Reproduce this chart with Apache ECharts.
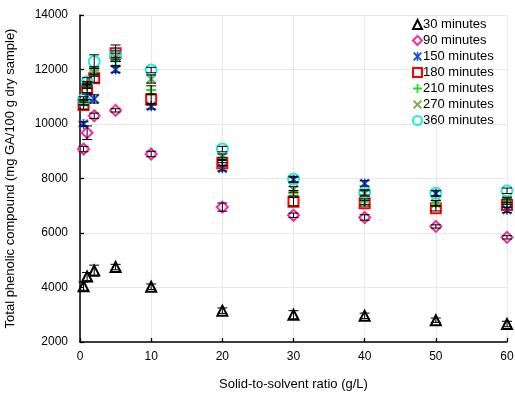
<!DOCTYPE html>
<html>
<head>
<meta charset="utf-8">
<script src="https://cdn.jsdelivr.net/npm/echarts@6/dist/echarts.min.js"></script>
<style>
  html, body { margin: 0; padding: 0; background: #fff; }
  #chart { width: 515px; height: 394px; }
</style>
</head>
<body>
<div id="chart"></div>
<script>
// solid-to-solvent ratio (g/L)
var ratios = [0.5, 1, 2, 5, 10, 20, 30, 40, 50, 60];

var names = ['30 minutes', '90 minutes', '150 minutes', '180 minutes', '210 minutes', '270 minutes', '360 minutes'];

// mean values
var tpc30  = [4050, 4400, 4620, 4750, 4030, 3150, 3000, 2960, 2800, 2660];
var tpc90  = [9080, 9680, 10300, 10500, 8900, 6950, 6650, 6570, 6240, 5840];
var tpc150 = [10000, 11000, 10920, 12000, 10650, 8380, 7950, 7820, 7450, 6850];
var tpc180 = [10700, 11300, 11680, 12600, 10900, 8560, 7150, 7090, 6910, 7030];
var tpc210 = [10800, 11400, 11950, 12300, 11250, 8680, 7460, 7150, 7090, 7150];
var tpc270 = [10800, 11450, 11900, 12450, 11650, 8800, 7600, 7450, 7090, 7210];
var tpc360 = [10900, 11550, 12290, 12530, 11980, 9080, 7980, 7490, 7460, 7550];

// error bar half-lengths
var err30  = [150, 150, 200, 100, 100, 100, 150, 100, 80, 100];
var err90  = [100, 250, 100, 60, 100, 150, 80, 100, 60, 60];
var err150 = [80, 100, 150, 100, 100, 100, 100, 100, 100, 100];
var err180 = [150, 150, 150, 300, 200, 100, 150, 100, 100, 100];
var err210 = [100, 100, 150, 150, 150, 100, 100, 100, 100, 100];
var err270 = [100, 100, 150, 150, 150, 100, 100, 100, 100, 100];
var err360 = [100, 150, 250, 150, 100, 100, 100, 100, 100, 100];

var yTicks = [2000, 4000, 6000, 8000, 10000, 12000, 14000];

var values = [tpc30, tpc90, tpc150, tpc180, tpc210, tpc270, tpc360];
var errors = [err30, err90, err150, err180, err210, err270, err360];

var PLUS = 'path://M4,0H6V4H10V6H6V10H4V6H0V4H4Z';
var CROSS = 'path://M0,1.5L1.5,0L5,3.5L8.5,0L10,1.5L6.5,5L10,8.5L8.5,10L5,6.5L1.5,10L0,8.5L3.5,5Z';
var STAR = 'path://M0,1.5L1.5,0L5,3.5L8.5,0L10,1.5L6.5,5L10,8.5L8.5,10L5,6.5L1.5,10L0,8.5L3.5,5Z M4.2,0H5.8V10H4.2Z';

var markers = [
  { symbol: 'triangle', size: 10, stroke: '#000', hollow: true },
  { symbol: 'diamond', size: 11, stroke: '#f0309a', hollow: true },
  { symbol: STAR, size: 10, stroke: '#1550ee', hollow: false },
  { symbol: 'rect', size: 10, stroke: '#ff0000', hollow: true },
  { symbol: PLUS, size: 10, stroke: '#22dd22', hollow: false },
  { symbol: CROSS, size: 10, stroke: '#6fae45', hollow: false },
  { symbol: 'circle', size: 11, stroke: '#22eedd', hollow: true }
];

function errorBars(i) {
  var data = ratios.map(function (x, k) {
    return [x, values[i][k], errors[i][k]];
  });
  return {
    type: 'custom',
    name: 'err' + i,
    z: 5,
    silent: true,
    data: data,
    encode: { x: 0, y: 1 },
    renderItem: function (params, api) {
      var x = api.value(0), y = api.value(1), e = api.value(2);
      var lo = api.coord([x, y - e]);
      var hi = api.coord([x, y + e]);
      var w = 5;
      var st = { stroke: '#000', lineWidth: 1 };
      return {
        type: 'group',
        children: [
          { type: 'line', shape: { x1: lo[0], y1: lo[1], x2: hi[0], y2: hi[1] }, style: st },
          { type: 'line', shape: { x1: lo[0] - w, y1: lo[1], x2: lo[0] + w, y2: lo[1] }, style: st },
          { type: 'line', shape: { x1: hi[0] - w, y1: hi[1], x2: hi[0] + w, y2: hi[1] }, style: st }
        ]
      };
    }
  };
}

var series = [];
names.forEach(function (name, i) {
  var m = markers[i];
  series.push({
    type: 'scatter',
    name: name,
    z: 3,
    symbol: m.symbol,
    symbolSize: m.size,
    data: ratios.map(function (x, k) { return [x, values[i][k]]; }),
    itemStyle: m.hollow
      ? { color: 'rgba(255,255,255,0)', borderColor: m.stroke, borderWidth: 2, opacity: 1 }
      : { color: m.stroke, borderWidth: 0, opacity: 1 }
  });
});
names.forEach(function (name, i) {
  series.push(errorBars(i));
});

var chart = echarts.init(document.getElementById('chart'), null, { renderer: 'canvas' });
var font = '"Liberation Sans", Arial, sans-serif';

var option = {
  animation: false,
  backgroundColor: '#fff',
  textStyle: { fontFamily: font },
  grid: { left: 80, right: 8, top: 15, bottom: 52, containLabel: false, outerBoundsMode: 'none' },
  legend: {
    data: names,
    orient: 'vertical',
    left: 407,
    top: 13,
    itemWidth: 9,
    itemHeight: 9,
    itemGap: 3,
    textStyle: { fontFamily: font, fontSize: 13, color: '#000', padding: [0, 0, 0, -4] }
  },
  xAxis: {
    type: 'value',
    min: 0,
    max: 60,
    interval: 10,
    name: 'Solid-to-solvent ratio (g/L)',
    nameLocation: 'middle',
    nameGap: 36,
    nameTextStyle: { fontFamily: font, fontSize: 13, color: '#000' },
    axisLine: { show: true, onZero: false, lineStyle: { color: '#000', width: 1.5 } },
    axisTick: { show: true, inside: true, length: 4, lineStyle: { color: '#000', width: 1.3 } },
    axisLabel: { fontFamily: font, fontSize: 12, color: '#000', margin: 9 },
    splitLine: { show: true, lineStyle: { color: '#e8e8e8', width: 1 } }
  },
  yAxis: {
    type: 'value',
    min: yTicks[0],
    max: yTicks[yTicks.length - 1],
    interval: 2000,
    name: 'Total phenolic compound (mg GA/100 g dry sample)',
    nameLocation: 'middle',
    nameGap: 63,
    nameTextStyle: { fontFamily: font, fontSize: 13, color: '#000' },
    axisLine: { show: true, lineStyle: { color: '#000', width: 1.5 } },
    axisTick: { show: true, inside: true, length: 4, lineStyle: { color: '#000', width: 1.3 } },
    axisLabel: { fontFamily: font, fontSize: 12, color: '#000', margin: 12, formatter: function (v) { return String(v); } },
    splitLine: { show: true, lineStyle: { color: '#e8e8e8', width: 1 } }
  },
  series: series
};

chart.setOption(option);
</script>
</body>
</html>
